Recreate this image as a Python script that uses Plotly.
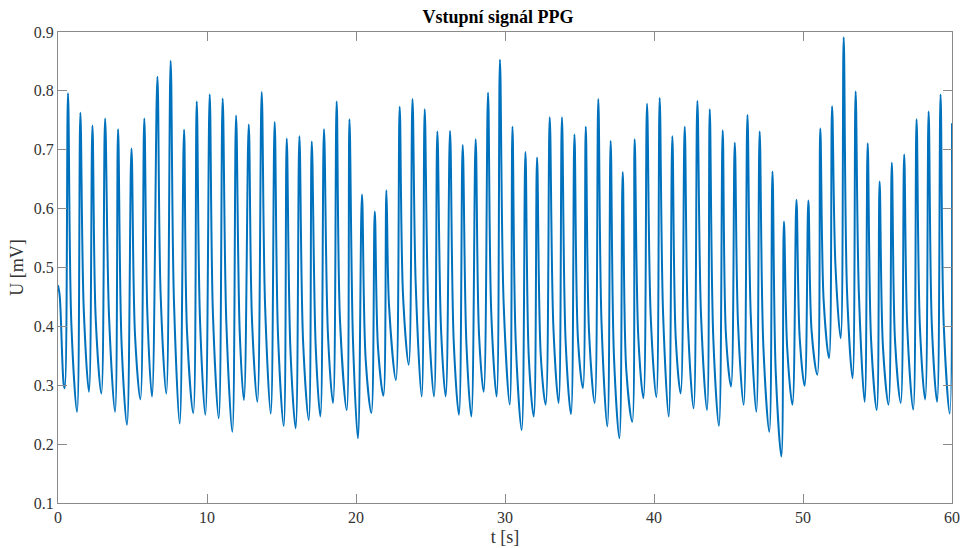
import plotly.graph_objects as go

# Lead-in samples before the first full beat (t [s], U [mV])
lead_t = [0.00, 0.11, 0.38]
lead_u = [0.470, 0.453, 0.302]

# Per-beat key points: trough before the systolic peak,
# systolic peak, and dicrotic notch
trough_t = [0.45, 1.28, 2.08, 2.91, 3.83, 4.63, 5.53, 6.31, 7.27, 8.17, 9.08, 9.89,
            10.79, 11.70, 12.48, 13.38, 14.28, 15.15, 15.95, 16.83, 17.61, 18.46,
            19.38, 20.13, 21.03, 21.84, 22.68, 23.54, 24.41, 25.24, 26.02, 26.91,
            27.74, 28.57, 29.44, 30.32, 31.12, 31.93, 32.73, 33.60, 34.43, 35.23,
            36.02, 36.87, 37.68, 38.54, 39.29, 40.16, 40.99, 41.79, 42.66, 43.56,
            44.36, 45.17, 46.02, 46.87, 47.74, 48.55, 49.29, 50.11, 50.96, 51.75,
            52.53, 53.33, 54.14, 54.95, 55.74, 56.56, 57.40, 58.20, 59.00]
trough_u = [0.295, 0.255, 0.289, 0.286, 0.255, 0.233, 0.276, 0.281, 0.286, 0.235, 0.253, 0.250,
            0.244, 0.221, 0.275, 0.272, 0.252, 0.231, 0.227, 0.241, 0.247, 0.270,
            0.258, 0.210, 0.253, 0.282, 0.309, 0.335, 0.281, 0.281, 0.281, 0.250,
            0.247, 0.289, 0.281, 0.267, 0.224, 0.247, 0.267, 0.270, 0.251, 0.295,
            0.270, 0.230, 0.210, 0.238, 0.278, 0.280, 0.247, 0.286, 0.261, 0.258,
            0.231, 0.298, 0.267, 0.255, 0.221, 0.179, 0.267, 0.299, 0.318, 0.346,
            0.380, 0.312, 0.272, 0.258, 0.267, 0.270, 0.259, 0.276, 0.272]
peak_t = [0.67, 1.50, 2.31, 3.16, 4.03, 4.93, 5.79, 6.67, 7.56, 8.46, 9.31, 10.18,
          11.05, 11.95, 12.80, 13.67, 14.54, 15.35, 16.20, 17.03, 17.85, 18.70,
          19.56, 20.40, 21.26, 22.04, 22.93, 23.79, 24.61, 25.46, 26.31, 27.16,
          28.03, 28.86, 29.66, 30.50, 31.37, 32.15, 33.00, 33.82, 34.66, 35.42,
          36.26, 37.09, 37.90, 38.70, 39.53, 40.38, 41.23, 42.06, 42.91, 43.74,
          44.61, 45.42, 46.27, 47.09, 47.95, 48.72, 49.56, 50.36, 51.16, 51.95,
          52.73, 53.53, 54.34, 55.14, 55.96, 56.79, 57.62, 58.43, 59.23]
peak_u = [0.796, 0.763, 0.741, 0.753, 0.735, 0.702, 0.753, 0.824, 0.851, 0.734, 0.782, 0.794,
          0.787, 0.758, 0.743, 0.798, 0.747, 0.719, 0.723, 0.714, 0.735, 0.782,
          0.752, 0.624, 0.595, 0.631, 0.773, 0.786, 0.769, 0.731, 0.732, 0.708,
          0.718, 0.797, 0.853, 0.739, 0.696, 0.687, 0.755, 0.755, 0.726, 0.739,
          0.786, 0.715, 0.662, 0.718, 0.778, 0.788, 0.723, 0.739, 0.783, 0.769,
          0.733, 0.712, 0.759, 0.731, 0.663, 0.578, 0.615, 0.614, 0.736, 0.774,
          0.891, 0.799, 0.711, 0.646, 0.678, 0.692, 0.752, 0.765, 0.794]
notch_t = [0.90, 1.73, 2.53, 3.43, 4.27, 5.17, 6.00, 6.89, 7.78, 8.66, 9.53, 10.40,
           11.30, 12.20, 13.02, 13.90, 14.77, 15.60, 16.45, 17.30, 18.12, 18.93,
           19.80, 20.65, 21.48, 22.22, 23.16, 24.01, 24.86, 25.71, 26.56, 27.41,
           28.26, 29.08, 29.91, 30.72, 31.60, 32.40, 33.25, 34.07, 34.90, 35.64,
           36.48, 37.31, 38.14, 38.95, 39.78, 40.61, 41.46, 42.28, 43.16, 43.98,
           44.83, 45.64, 46.49, 47.34, 48.17, 48.94, 49.78, 50.58, 51.39, 52.18,
           52.96, 53.75, 54.57, 55.37, 56.18, 57.00, 57.85, 58.65, 59.45]
notch_u = [0.402, 0.428, 0.414, 0.414, 0.369, 0.385, 0.420, 0.453, 0.445, 0.391, 0.411, 0.420,
           0.405, 0.388, 0.411, 0.434, 0.383, 0.360, 0.374, 0.363, 0.385, 0.408,
           0.374, 0.343, 0.363, 0.434, 0.451, 0.470, 0.425, 0.394, 0.374, 0.371,
           0.385, 0.422, 0.439, 0.374, 0.346, 0.351, 0.397, 0.374, 0.377, 0.391,
           0.405, 0.351, 0.326, 0.380, 0.417, 0.422, 0.380, 0.402, 0.417, 0.380,
           0.385, 0.405, 0.422, 0.366, 0.323, 0.363, 0.380, 0.391, 0.442, 0.502,
           0.456, 0.456, 0.377, 0.363, 0.374, 0.397, 0.397, 0.400, 0.400]

# Tail samples after the last notch
tail_t = [59.85, 60.00]
tail_u = [0.252, 0.745]

x_ticks = [0, 10, 20, 30, 40, 50, 60]
y_ticks = [0.1, 0.2, 0.3, 0.4, 0.5, 0.6, 0.7, 0.8, 0.9]

# Assemble the polyline from the read key points
t = list(lead_t)
u = list(lead_u)
for i in range(len(peak_t)):
    t += [trough_t[i], peak_t[i], notch_t[i]]
    u += [trough_u[i], peak_u[i], notch_u[i]]
t += tail_t
u += tail_u

FONT = "Liberation Serif, Times New Roman, serif"
AXLINE = "#8a8a8a"
TXT = "#333333"

fig = go.Figure()
fig.add_trace(go.Scatter(
    x=t, y=u, mode="lines",
    line=dict(color="#0072BD", width=2, shape="spline", smoothing=1.0),
    showlegend=False, hoverinfo="skip",
))

axis_common = dict(
    showline=True, linecolor=AXLINE, linewidth=1, mirror="ticks",
    ticks="inside", ticklen=9, tickwidth=1, tickcolor=AXLINE,
    showgrid=False, zeroline=False, automargin=False,
    ticklabeloverflow="allow",
    tickfont=dict(family=FONT, size=16, color=TXT),
)

fig.update_layout(
    width=960, height=548,
    paper_bgcolor="white", plot_bgcolor="white",
    margin=dict(l=58, r=8, t=32, b=45),
    title=dict(text="<b>Vstupní signál PPG</b>", x=0.51875, xref="container", xanchor="center",
               y=0.969, yref="container", yanchor="middle", pad=dict(t=0, b=0),
               font=dict(family=FONT, size=18, color="black")),
    xaxis=dict(range=[0, 60], tickvals=x_ticks, ticktext=[str(v) for v in x_ticks],
               title=dict(text="t [s]", font=dict(family=FONT, size=18, color=TXT), standoff=5),
               **axis_common),
    yaxis=dict(range=[0.1, 0.9], tickvals=y_ticks, ticktext=[f"{v:.1f}" for v in y_ticks],
               title=dict(text="U [mV]", font=dict(family=FONT, size=18, color=TXT), standoff=5),
               **axis_common),
)

# remove the default page margin so the 960x548 figure fills the window exactly
fig.write_html(
    "out.html",
    config={"displayModeBar": False},
    post_script="document.body.style.margin='0';document.body.style.overflow='hidden';",
)
